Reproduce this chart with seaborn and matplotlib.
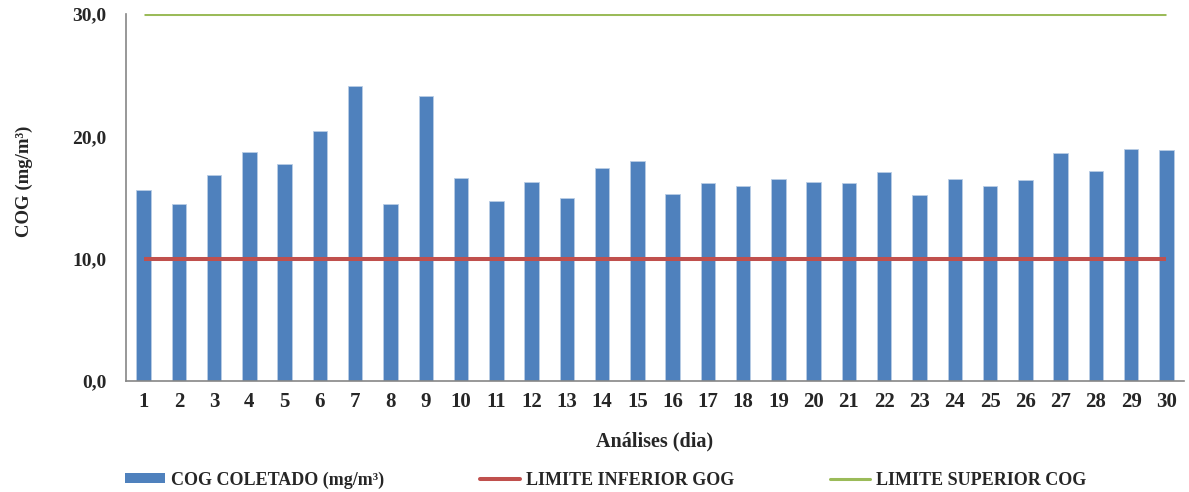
import matplotlib
matplotlib.use("Agg")
import matplotlib.pyplot as plt
import seaborn as sns
import numpy as np
import pandas as pd
from matplotlib.patches import Patch
from matplotlib.lines import Line2D
from matplotlib.ticker import FuncFormatter

# ---- data ----
dias = [str(i) for i in range(1, 31)]
cog_coletado = [15.6, 14.5, 16.8, 18.7, 17.7, 20.4, 24.1, 14.5, 23.3, 16.6,
                14.7, 16.3, 15.0, 17.4, 18.0, 15.3, 16.2, 15.9, 16.5, 16.3,
                16.2, 17.1, 15.2, 16.5, 15.9, 16.4, 18.6, 17.2, 19.0, 18.9]
limite_inferior = [10.0] * 30
limite_superior = [30.0] * 30
y_ticks = [0, 10, 20, 30]

df = pd.DataFrame({"dia": dias, "cog": cog_coletado})

sns.set_theme(style="white")
plt.rcParams["font.family"] = ["Liberation Serif", "DejaVu Serif"]
plt.rcParams["font.weight"] = "bold"

fig = plt.figure(figsize=(11.89, 4.92), dpi=100)
ax = fig.add_axes([126 / 1189, 1 - 381 / 492, (1184 - 126) / 1189, (381 - 14) / 492])

blue = "#4F81BD"
red = "#C0504D"
green = "#9BBB59"

sns.barplot(data=df, x="dia", y="cog", color=blue, width=0.41, ax=ax,
            edgecolor="#B9CDE5", linewidth=0.6, saturation=1)
xpos = np.arange(len(dias))
ax.plot(xpos, limite_inferior, color=red, lw=2.9, solid_capstyle="butt")
ax.plot(xpos, limite_superior, color=green, lw=2.2, solid_capstyle="butt")

ax.set_xlim(-0.5, len(dias) - 0.5)
ax.set_ylim(0, 30)
ax.set_yticks(y_ticks)
ax.yaxis.set_major_formatter(FuncFormatter(lambda v, p: f"{v:.1f}".replace(".", ",")))
ax.tick_params(axis="x", length=0, labelsize=15, pad=8)
ax.tick_params(axis="y", length=0, labelsize=14, pad=14)
for lab in ax.get_xticklabels() + ax.get_yticklabels():
    lab.set_fontweight("bold")

for s in ["top", "right"]:
    ax.spines[s].set_visible(False)
for s in ["left", "bottom"]:
    ax.spines[s].set_color("#868686")
    ax.spines[s].set_linewidth(1.2)

ax.set_xlabel("Análises (dia)", fontsize=14.5, fontweight="bold", labelpad=14)
ax.set_ylabel("COG (mg/m³)", fontsize=13.5, fontweight="bold")
ax.yaxis.set_label_coords(-0.088, 0.545)

handles = [Patch(facecolor=blue, edgecolor="none"),
           Line2D([0], [0], color=red, lw=2.9),
           Line2D([0], [0], color=green, lw=2.2)]
labels = ["COG COLETADO (mg/m³)", "LIMITE INFERIOR GOG", "LIMITE SUPERIOR COG"]
fig.legend(handles, labels, loc="center left", bbox_to_anchor=(109 / 1189, 1 - 480 / 492),
           ncol=3, frameon=False, handlelength=2.2, handleheight=0.45,
           columnspacing=5.3, handletextpad=0.35,
           prop={"weight": "bold", "size": 13})

fig.savefig("out.png", dpi=100)
